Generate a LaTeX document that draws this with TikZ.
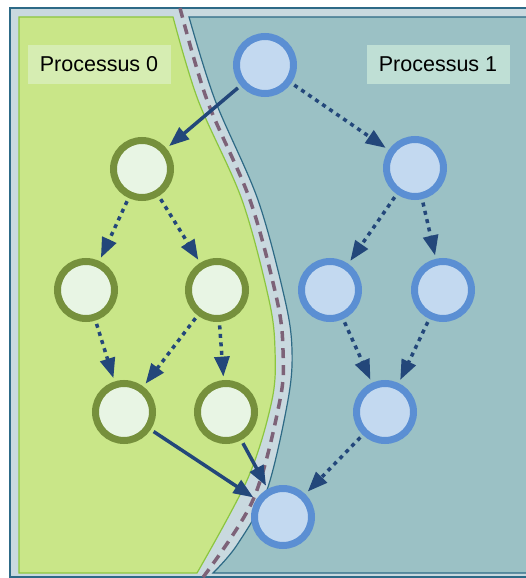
\documentclass[tikz,border=0pt]{standalone}
\usepackage{fontspec}
\setmainfont{Liberation Sans}
\usetikzlibrary{arrows.meta}

\definecolor{framebg}{HTML}{C9D9DF}
\definecolor{frameline}{HTML}{2D6A87}
\definecolor{zonegreen}{HTML}{C9E688}
\definecolor{zonegreenline}{HTML}{8CC63F}
\definecolor{zoneblue}{HTML}{9BC1C5}
\definecolor{zoneblueline}{HTML}{2E6A85}
\definecolor{cutline}{HTML}{7D6278}
\definecolor{gfill}{HTML}{E8F5E4}
\definecolor{gline}{HTML}{76903C}
\definecolor{bfill}{HTML}{C3D9F0}
\definecolor{bline}{HTML}{5B8FD3}
\definecolor{arrowcol}{HTML}{23477A}
\definecolor{labelgreen}{HTML}{D6EDB2}
\definecolor{labelblue}{HTML}{BFDFD5}

\tikzset{
  task/.style={circle, minimum size=57pt, inner sep=0pt, line width=7pt},
  gtask/.style={task, draw=gline, fill=gfill},
  btask/.style={task, draw=bline, fill=bfill},
  link/.style={draw=arrowcol, line width=3.5pt,
    -{Triangle[length=20pt,width=15pt]},
    shorten >=3.5pt, shorten <=3.5pt},
  msg/.style={link},
  dep/.style={link, dash pattern=on 4pt off 4.5pt},
  proclabel/.style={inner sep=0pt, minimum width=143pt, minimum height=39pt,
    font=\fontsize{21.5pt}{24pt}\selectfont},
}

\begin{document}
\begin{tikzpicture}[x=1pt,y=-1pt]
  \useasboundingbox (0,0) rectangle (526,578);

  % frame
  \draw[fill=framebg, draw=frameline, line width=1.2pt] (10,8) rectangle (560,577);

  % process 0 zone
  \draw[fill=zonegreen, draw=zonegreenline, line width=1.2pt]
    (19,17) -- plot[smooth, tension=0.55] coordinates
      {(173,17) (198,100) (242,200) (269,300) (275,350) (272,400) (248,478) (197,573)}
    -- (19,573) -- cycle;

  % process 1 zone
  \draw[fill=zoneblue, draw=zoneblueline, line width=1.2pt]
    (560,17) -- plot[smooth, tension=0.55] coordinates
      {(189,17) (215,100) (258,200) (285,300) (292,350) (288,400) (267,490) (237,545) (213,573)}
    -- (560,573) -- cycle;

  % partition cut
  \draw[cutline, line width=3.5pt, dash pattern=on 10pt off 7pt]
    plot[smooth, tension=0.55] coordinates
      {(180,8) (207,100) (250,200) (277,300) (283,350) (280,400) (253,500) (201,580)};

  % labels
  \node[proclabel, fill=labelgreen] (l0) at (99,64.5) {Processus 0};
  \node[proclabel, fill=labelblue] (l1) at (438,64.5) {Processus 1};

  % tasks of process 1
  \node[btask] (b0) at (265,65) {};
  \node[btask] (b1) at (415,168) {};
  \node[btask] (b2) at (330,290) {};
  \node[btask] (b3) at (443,290) {};
  \node[btask] (b4) at (385,412) {};
  \node[btask] (b5) at (283,517) {};

  % tasks of process 0
  \node[gtask] (g0) at (142,169) {};
  \node[gtask] (g1) at (86,290) {};
  \node[gtask] (g2) at (217,290) {};
  \node[gtask] (g3) at (124,412) {};
  \node[gtask] (g4) at (226,412) {};

  % local dependencies
  \draw[dep] (b0) -- (b1);
  \draw[dep] (b1) -- (b2);
  \draw[dep] (b1) -- (b3);
  \draw[dep] (b2) -- (b4);
  \draw[dep] (b3) -- (b4);
  \draw[dep] (b4) -- (b5);
  \draw[dep] (g0) -- (g1);
  \draw[dep] (g0) -- (g2);
  \draw[dep] (g1) -- (g3);
  \draw[dep] (g2) -- (g3);
  \draw[dep] (g2) -- (g4);

  % messages across the cut
  \draw[msg] (b0) -- (g0);
  \draw[msg] (g3) -- (b5);
  \draw[msg] (g4) -- (b5);
\end{tikzpicture}
\end{document}
